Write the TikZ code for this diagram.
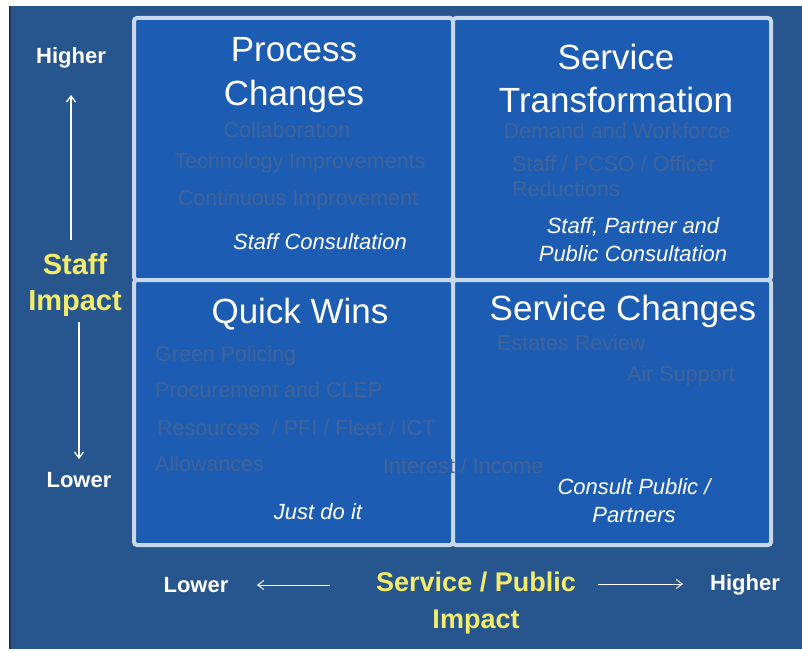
\documentclass[tikz,border=0pt]{standalone}
\usepackage{fontspec}
\setmainfont{Liberation Sans}
\usetikzlibrary{arrows.meta}

\definecolor{panel}{HTML}{27568F}
\definecolor{paneledge}{HTML}{1A3560}
\definecolor{quadfill}{HTML}{1C5DB3}
\definecolor{quadline}{HTML}{C9D7EA}
\definecolor{dimtext}{HTML}{41639A}
\definecolor{axisyellow}{HTML}{F2EC6A}

\tikzset{
  quadrant/.style={draw=quadline, fill=quadfill, line width=4pt, rounded corners=3pt,
    inner sep=0pt},
  title/.style={text=white, font=\fontsize{35}{44}\selectfont, align=center, inner sep=0pt},
  item/.style={text=dimtext, font=\fontsize{21.5}{25}\selectfont, inner sep=0pt},
  note/.style={text=white, font=\itshape\fontsize{22}{28}\selectfont, align=center, inner sep=0pt},
  endlabel/.style={text=white, font=\bfseries\fontsize{22}{26}\selectfont, inner sep=0pt},
  axislabel/.style={text=axisyellow, font=\bfseries\fontsize{29}{36}\selectfont, align=center, inner sep=0pt},
  axisarrow/.style={draw=white, line width=1.3pt, -{Straight Barb[length=6pt,width=9pt]}},
}

\begin{document}
\begin{tikzpicture}[x=1pt, y=-1pt]
  \useasboundingbox (0,0) rectangle (802,652);
  % backdrop
  \fill[white] (0,0) rectangle (802,652);
  \fill[panel] (9,6) rectangle (802,649);
  \draw[paneledge, line width=2pt] (10,6) -- (10,649);

  % the four quadrants
  \node[quadrant, minimum width=319pt, minimum height=262pt, anchor=north west] (tl) at (132,16) {};
  \node[quadrant, minimum width=318pt, minimum height=262pt, anchor=north west] (tr) at (451,16) {};
  \node[quadrant, minimum width=319pt, minimum height=265pt, anchor=north west] (bl) at (132,278) {};
  \node[quadrant, minimum width=318pt, minimum height=265pt, anchor=north west] (br) at (451,278) {};

  % top left: Process Changes
  \node[title] (tlTitle) at (294,75) {Process\\Changes};
  \node[item] (tl1) at (287,130) {Collaboration};
  \node[item] (tl2) at (300,163) {Technology Improvements};
  \node[item] (tl3) at (298,200) {Continuous Improvement};
  \node[note] (tl4) at (320,242) {Staff Consultation};

  % top right: Service Transformation
  \node[title, font=\fontsize{35}{43}\selectfont] (trTitle) at (616,78) {Service\\Transformation};
  \node[item] (tr1) at (617,131) {Demand and Workforce};
  \node[item, align=left, anchor=west] (tr2) at (512,176) {Staff / PCSO / Officer\\Reductions};
  \node[note] (tr3) at (633,240) {Staff, Partner and\\Public Consultation};

  % bottom left: Quick Wins
  \node[title] (blTitle) at (300,314) {Quick Wins};
  \node[item, anchor=west] (bl1) at (155,356) {Green Policing};
  \node[item, anchor=west] (bl2) at (155,390) {Procurement and CLEP};
  \node[item, anchor=west] (bl3) at (157,428) {Resources\ \ / PFI / Fleet / ICT};
  \node[item, anchor=west] (bl4) at (155,464) {Allowances};
  \node[item, anchor=west] (bl5) at (383,466) {Interest / Income};
  \node[note] (bl6) at (318,512) {Just do it};

  % bottom right: Service Changes
  \node[title] (brTitle) at (623,311) {Service Changes};
  \node[item, anchor=west] (br1) at (497,343) {Estates Review};
  \node[item, anchor=west] (br2) at (627,376) {Air Support};
  \node[note] (br3) at (634,501) {Consult Public /\\Partners};

  % vertical axis: staff impact
  \node[endlabel] (vHigh) at (71,58) {Higher};
  \node[axislabel] (vAxis) at (75,285) {Staff\\Impact};
  \node[endlabel] (vLow) at (79,480) {Lower};
  \coordinate (upFrom) at (71,240);
  \coordinate (upTo) at (71,95);
  \coordinate (downFrom) at (79,322);
  \coordinate (downTo) at (79,459);
  \draw[axisarrow] (upFrom) -- (upTo);
  \draw[axisarrow] (downFrom) -- (downTo);

  % horizontal axis: service / public impact
  \node[endlabel] (hLow) at (196,585) {Lower};
  \node[axislabel, font=\bfseries\fontsize{27}{37}\selectfont] (hAxis) at (476,603) {Service / Public\\Impact};
  \node[endlabel] (hHigh) at (745,585) {Higher};
  \coordinate (leftFrom) at (330,585);
  \coordinate (leftTo) at (257,585);
  \coordinate (rightFrom) at (598,584);
  \coordinate (rightTo) at (683,584);
  \draw[axisarrow, line width=1pt] (leftFrom) -- (leftTo);
  \draw[axisarrow, line width=1pt] (rightFrom) -- (rightTo);
\end{tikzpicture}
\end{document}
